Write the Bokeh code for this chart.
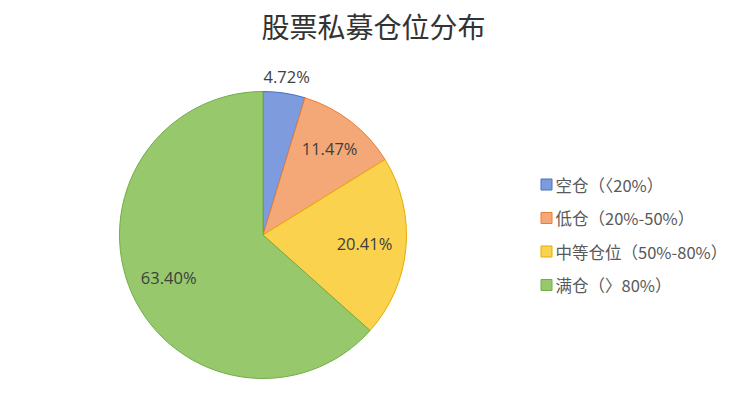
import math
from bokeh.plotting import figure
from bokeh.models import Range1d, ColumnDataSource
from bokeh.core.properties import value
from bokeh.embed import file_html
from bokeh.resources import INLINE

title = "股票私募仓位分布"
categories = ["空仓（〈20%）", "低仓（20%-50%）", "中等仓位（50%-80%）", "满仓（〉80%）"]
shares = [4.72, 11.47, 20.41, 63.40]
labels = ["4.72%", "11.47%", "20.41%", "63.40%"]

fill_colors = ["#7D9BDD", "#F4A878", "#FBD24E", "#97C96C"]
edge_colors = ["#4472C4", "#ED7D31", "#E6AC00", "#70AD47"]
label_r = [1.12, 0.76, 0.71, 0.72]

W, H = 728, 400
p = figure(width=W, height=H, output_backend="svg", toolbar_location=None,
           x_range=Range1d(0, W), y_range=Range1d(0, H), min_border=0)
p.axis.visible = False
p.grid.visible = False
p.outline_line_color = None
p.background_fill_color = "white"

cx, cy, R = 262.5, 165.5, 143.5
total = sum(shares)
starts, ends, lx, ly = [], [], [], []
cum = 0.0
for s, lr in zip(shares, label_r):
    a0 = math.pi / 2 - cum / total * 2 * math.pi
    cum += s
    a1 = math.pi / 2 - cum / total * 2 * math.pi
    starts.append(a0)
    ends.append(a1)
    mid = (a0 + a1) / 2
    lx.append(cx + lr * R * math.cos(mid))
    ly.append(cy + lr * R * math.sin(mid))

src = ColumnDataSource(dict(start=starts, end=ends, fill=fill_colors, edge=edge_colors,
                            x=[cx] * 4, y=[cy] * 4))
p.wedge(x="x", y="y", radius=R, start_angle="start", end_angle="end", direction="clock",
        fill_color="fill", line_color="edge", line_width=1, source=src)

p.text(x=lx, y=ly, text=labels, text_align="center", text_baseline="middle",
       text_font=value("Open Sans"), text_font_size="16.5px", text_color="#404040")

p.text(x=[373], y=[375], text=[title], text_align="center", text_baseline="middle",
       text_font=value("Noto Sans CJK SC"), text_font_size="28px", text_color="#333333")

leg_y = [216 - i * 33.5 for i in range(len(categories))]
p.scatter(x=[546] * 4, y=leg_y, marker="square", size=11, fill_color=fill_colors,
          line_color=edge_colors, line_width=1)
p.text(x=[555] * 4, y=leg_y, text=categories, text_align="left", text_baseline="middle",
       text_font=value("Noto Sans CJK SC"), text_font_size="16.5px", text_color="#595959")

open("out.html", "w").write(file_html(p, INLINE))
